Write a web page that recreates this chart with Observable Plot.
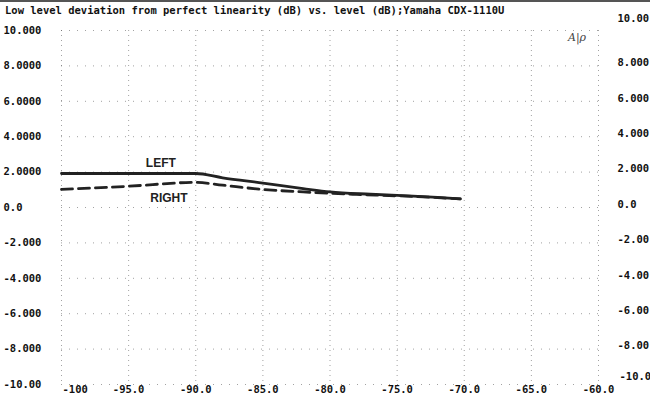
<!DOCTYPE html>
<html>
<head>
<meta charset="utf-8">
<script src="https://cdn.jsdelivr.net/npm/d3@7"></script>
<script src="https://cdn.jsdelivr.net/npm/@observablehq/plot@0.6"></script>
<style>
  html, body { margin: 0; padding: 0; background: #fff; }
  #wrap { position: relative; width: 650px; height: 395px; overflow: hidden; }
  #topline { position: absolute; left: 0; top: 0; width: 650px; height: 2px; background: #555; }
  #title { position: absolute; left: 5px; top: 4px; font: bold 10.5px "DejaVu Sans Mono", monospace; color: #111; white-space: pre; }
</style>
</head>
<body>
<div id="wrap">
  <div id="chart"></div>
  <div id="topline"></div>
  <div id="title">Low level deviation from perfect linearity (dB) vs. level (dB);Yamaha CDX-1110U</div>
</div>
<script>
// ---- data ----
const xTicks = [-100, -95, -90, -85, -80, -75, -70, -65, -60];
const xLabels = ["-100", "-95.0", "-90.0", "-85.0", "-80.0", "-75.0", "-70.0", "-65.0", "-60.0"];
const yTicks = [10, 8, 6, 4, 2, 0, -2, -4, -6, -8, -10];
const yLabelsLeft = ["10.000", "8.0000", "6.0000", "4.0000", "2.0000", "0.0", "-2.000", "-4.000", "-6.000", "-8.000", "-10.00"];
const yLabelsRight = ["10.00", "8.000", "6.000", "4.000", "2.000", "0.0", "-2.00", "-4.00", "-6.00", "-8.00", "-10.0"];

const leftLevel = [-100, -95, -90, -88, -85, -82, -80, -77, -75, -72, -70.3];
const leftDev   = [1.92, 1.92, 1.92, 1.68, 1.38, 1.07, 0.88, 0.75, 0.68, 0.57, 0.49];
const rightLevel = [-100, -95, -90, -88, -85, -82, -80, -78, -75, -72, -70.3];
const rightDev   = [1.02, 1.2, 1.42, 1.26, 1.02, 0.88, 0.8, 0.74, 0.66, 0.56, 0.49];

const labelText = ["LEFT", "RIGHT"];
const labelLevel = [-92.6, -92.0];
const labelDev = [2.5, 0.55];

// ---- build ----
const leftData = leftLevel.map((x, i) => ({x, y: leftDev[i]}));
const rightData = rightLevel.map((x, i) => ({x, y: rightDev[i]}));
const labels = labelText.map((t, i) => ({t, x: labelLevel[i], y: labelDev[i]}));
const fmtX = d => xLabels[xTicks.indexOf(d)];
const fmtL = d => yLabelsLeft[yTicks.indexOf(d)];
const fmtR = d => yLabelsRight[yTicks.indexOf(d)];
const midY = yTicks.filter(d => d !== 10 && d !== -10);

const chart = Plot.plot({
  width: 650,
  height: 395,
  marginLeft: 61,
  marginRight: 52,
  marginTop: 30,
  marginBottom: 11,
  style: {fontFamily: "DejaVu Sans Mono, monospace", fontSize: "10.5px", fontWeight: "bold", color: "#111", background: "#fff"},
  x: {domain: [-100, -60], label: null},
  y: {domain: [-10, 10], label: null},
  marks: [
    Plot.ruleY(yTicks, {stroke: "#555", strokeOpacity: 0.55, strokeDasharray: "1,7"}),
    Plot.ruleX(xTicks, {stroke: "#555", strokeOpacity: 0.55, strokeDasharray: "1,4"}),
    // axes
    Plot.axisX(xTicks.slice(1), {anchor: "bottom", tickSize: 0, tickFormat: fmtX, label: null, dy: -8}),
    Plot.axisX([-100], {anchor: "bottom", tickSize: 0, tickFormat: fmtX, label: null, textAnchor: "start", dx: 1, dy: -8}),
    Plot.axisY(yTicks, {anchor: "left", tickSize: 0, tickFormat: fmtL, label: null, textAnchor: "start", dx: -49}),
    Plot.axisY(midY, {anchor: "right", tickSize: 0, tickFormat: fmtR, label: null, textAnchor: "start", dx: 10, dy: -3}),
    Plot.axisY([10], {anchor: "right", tickSize: 0, tickFormat: fmtR, label: null, textAnchor: "start", dx: 10, dy: -12}),
    Plot.axisY([-10], {anchor: "right", tickSize: 0, tickFormat: fmtR, label: null, textAnchor: "start", dx: 12, dy: -8}),
    // curves
    Plot.line(rightData, {x: "x", y: "y", stroke: "#222", strokeWidth: 2.8, strokeDasharray: "11,6", curve: "monotone-x"}),
    Plot.line(leftData, {x: "x", y: "y", stroke: "#222", strokeWidth: 2.8, curve: "monotone-x"}),
    Plot.text(labels, {x: "x", y: "y", text: "t", fontFamily: "Liberation Sans, Arial, sans-serif", fontSize: 12, fontWeight: 600, fill: "#222"}),
    Plot.text(["A|ρ"], {x: [-61.6], y: [9.6], text: d => d, fontFamily: "DejaVu Serif, serif", fontStyle: "italic", fontWeight: "normal", fontSize: 11, fill: "#444"})
  ]
});
document.getElementById("chart").appendChild(chart);
</script>
</body>
</html>
